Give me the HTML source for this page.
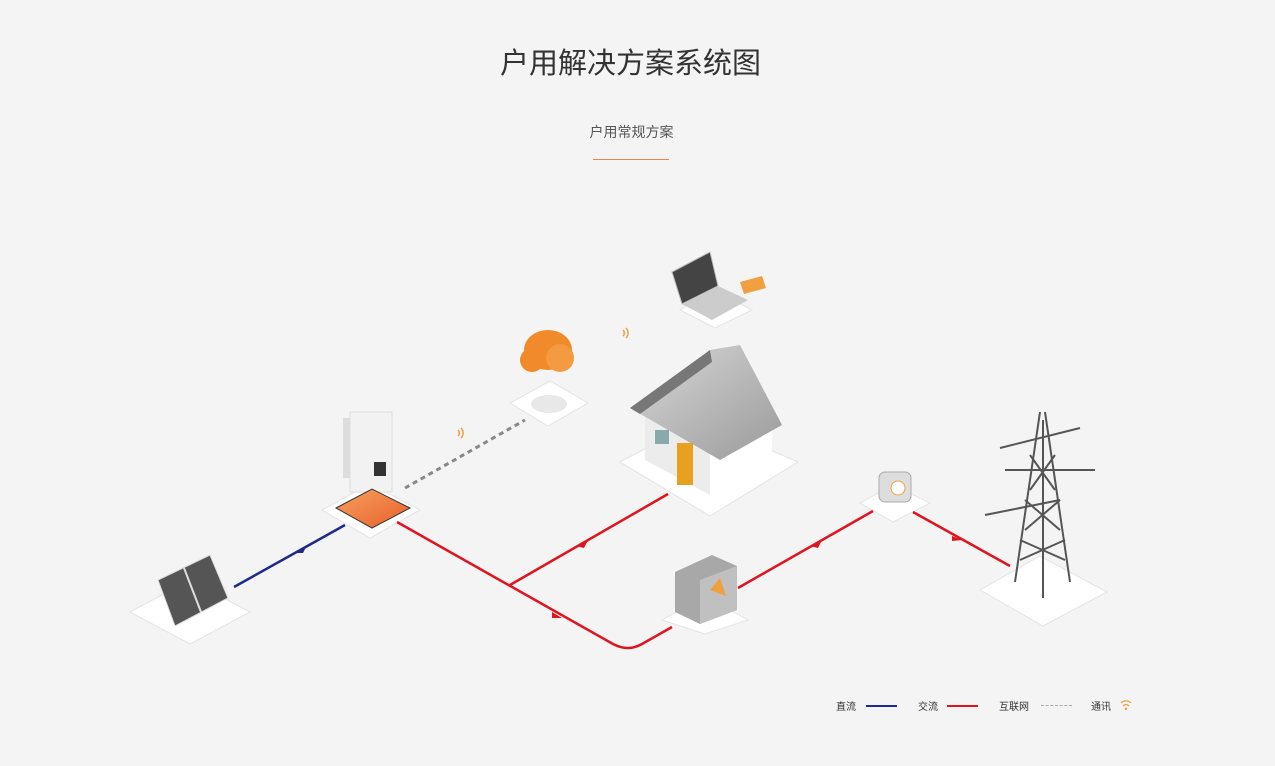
<!DOCTYPE html>
<html><head><meta charset="utf-8"><style>
body{margin:0;width:1275px;height:766px;background:#f4f4f4;overflow:hidden;font-family:"Liberation Sans","Noto Sans CJK SC",sans-serif}
.t{position:absolute;left:0;width:1275px;text-align:center}
</style></head><body>
<div class="t" style="top:40px;font-size:29px;color:#333;left:-7px">户用解决方案系统图</div>
<div class="t" style="top:122px;font-size:14px;color:#555;left:-6px">户用常规方案</div>
<div style="position:absolute;left:593px;top:159px;width:76px;height:1px;background:#e8874a"></div>
<svg width="1275" height="766" style="position:absolute;left:0;top:0">
<defs>
<linearGradient id="og" x1="0" y1="0" x2="1" y2="1"><stop offset="0" stop-color="#f6a060"/><stop offset="1" stop-color="#e8602a"/></linearGradient>
<linearGradient id="roof" x1="0" y1="0" x2="1" y2="1"><stop offset="0" stop-color="#d8d8d8"/><stop offset="1" stop-color="#9a9a9a"/></linearGradient>
</defs>
<g fill="#fff" stroke="#e4e4e4">
<polygon points="130,612 190,580 250,612 190,644"/>
<polygon points="322,510 370,484 420,510 370,538"/>
<polygon points="510,403 550,381 588,403 548,426"/>
<polygon points="620,462 700,420 798,462 710,516"/>
<polygon points="662,620 705,596 748,620 705,634"/>
<polygon points="860,503 893,485 930,503 893,522"/>
<polygon points="980,590 1040,556 1107,592 1043,626"/>
<polygon points="680,310 715,290 752,310 715,328"/>
</g>
<line x1="234" y1="587" x2="345" y2="525" stroke="#1f2a8a" stroke-width="2.5"/>
<polygon points="296,553 307,545 303,553" fill="#1f2a8a"/>
<path d="M397,522 L613,644 Q628,652 642,644 L672,627" fill="none" stroke="#e0141e" stroke-width="2.5"/>
<line x1="510" y1="585" x2="668" y2="494" stroke="#e0141e" stroke-width="2.5"/>
<line x1="738" y1="588" x2="873" y2="511" stroke="#e0141e" stroke-width="2.5"/>
<line x1="913" y1="512" x2="1010" y2="566" stroke="#e0141e" stroke-width="2.5"/>
<g fill="#e0141e"><polygon points="576,546 588,540 584,548"/><polygon points="552,612 562,618 552,618"/><polygon points="810,546 822,540 818,548"/><polygon points="952,536 962,540 952,541"/></g>
<line x1="405" y1="488" x2="525" y2="420" stroke="#888" stroke-width="3" stroke-dasharray="5,4"/>
<polygon points="158,580 210,555 228,598 175,626" fill="#555" stroke="#ddd"/>
<line x1="184" y1="568" x2="201" y2="612" stroke="#ddd" stroke-width="2"/>
<rect x="343" y="418" width="40" height="60" fill="#ddd"/>
<rect x="350" y="412" width="42" height="80" fill="#f2f2f2" stroke="#ddd"/>
<rect x="374" y="462" width="12" height="14" fill="#333"/>
<polygon points="336,508 372,489 410,508 372,528" fill="url(#og)" stroke="#333"/>
<ellipse cx="548" cy="350" rx="24" ry="20" fill="#f08a2a"/>
<ellipse cx="532" cy="360" rx="12" ry="12" fill="#f08a2a"/>
<ellipse cx="560" cy="358" rx="14" ry="14" fill="#f49a40"/>
<ellipse cx="549" cy="404" rx="18" ry="9" fill="#e8e8e8"/>
<g fill="none" stroke="#f0a040" stroke-width="1.5"><path d="M458,436 a4,4 0 0 0 0,-6"/><path d="M461,438 a7,7 0 0 0 0,-10"/><path d="M623,336 a4,4 0 0 0 0,-6"/><path d="M626,338 a7,7 0 0 0 0,-10"/></g>
<polygon points="672,272 710,252 718,286 682,304" fill="#444" stroke="#bbb"/>
<polygon points="682,304 718,286 748,300 712,320" fill="#ccc"/>
<polygon points="740,282 762,276 766,288 744,294" fill="#f0a040"/>
<polygon points="645,415 705,382 772,420 772,465 710,495 645,460" fill="#ececec"/>
<polygon points="710,430 772,420 772,465 710,495" fill="#fff"/>
<polygon points="630,408 710,350 740,345 782,425 720,460" fill="url(#roof)"/>
<polygon points="630,408 710,350 712,362 640,414" fill="#777"/>
<rect x="677" y="443" width="16" height="42" fill="#e8a020"/>
<rect x="655" y="430" width="14" height="14" fill="#8aa"/>
<polygon points="675,572 712,555 737,566 737,610 700,624 675,612" fill="#a8a8a8"/>
<polygon points="700,580 737,566 737,610 700,624" fill="#c0c0c0"/>
<polygon points="710,590 720,578 726,596" fill="#f0a040"/>
<rect x="879" y="472" width="32" height="30" rx="6" fill="#ddd" stroke="#aaa"/>
<circle cx="898" cy="488" r="7" fill="#fff" stroke="#f0a040"/>
<g stroke="#555" stroke-width="2" fill="none">
<line x1="1040" y1="412" x2="1015" y2="582"/><line x1="1045" y1="412" x2="1070" y2="582"/>
<line x1="1000" y1="448" x2="1080" y2="428"/><line x1="1005" y1="470" x2="1095" y2="470"/><line x1="985" y1="515" x2="1060" y2="500"/>
<path d="M1020,540 L1065,560 M1065,540 L1020,560 M1025,500 L1060,530 M1060,500 L1025,530 M1030,455 L1055,490 M1055,455 L1030,490"/>
<line x1="1043" y1="420" x2="1043" y2="598"/>
</g>
<g fill="none" stroke="#f0a040" stroke-width="1.2"><path d="M1121,703 a7,7 0 0 1 10,0"/><path d="M1123,706 a4,4 0 0 1 6,0"/></g>
<circle cx="1126" cy="709" r="1.2" fill="#f0a040"/>
</svg>
<div style="position:absolute;top:698px;left:836px;font-size:10px;color:#333;">直流</div>
<div style="position:absolute;top:705px;left:866px;width:31px;height:2px;background:#1f2a8a"></div>
<div style="position:absolute;top:698px;left:918px;font-size:10px;color:#333;">交流</div>
<div style="position:absolute;top:705px;left:947px;width:31px;height:2px;background:#e0141e"></div>
<div style="position:absolute;top:698px;left:999px;font-size:10px;color:#333;">互联网</div>
<div style="position:absolute;top:705px;left:1041px;width:31px;border-top:1px dashed #aaa"></div>
<div style="position:absolute;top:698px;left:1091px;font-size:10px;color:#333;">通讯</div>
</body></html>
